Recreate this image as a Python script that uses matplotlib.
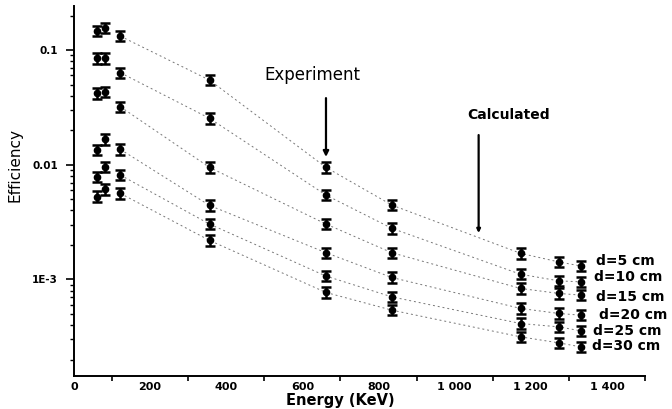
import numpy as np
import matplotlib
matplotlib.use("Agg")
import matplotlib.pyplot as plt
from matplotlib.ticker import FixedLocator, FixedFormatter, LogLocator, NullFormatter

plt.rcParams["font.family"] = ["DejaVu Sans"]

# gamma energies (keV)
energy = [59.5, 81, 122, 356, 662, 835, 1173, 1274, 1332]

# efficiencies, one list per source distance
eff_d5 = [0.147, 0.155, 0.132, 0.0547, 0.00948, 0.00445, 0.00169, 0.00142, 0.00131]
eff_d10 = [0.0846, 0.0846, 0.0634, 0.0254, 0.00544, 0.00279, 0.00111, 0.000972, 0.000953]
eff_d15 = [0.0419, 0.0433, 0.0320, 0.00948, 0.00304, 0.00171, 0.000835, 0.000755, 0.00073]
eff_d20 = [0.0134, 0.0166, 0.0136, 0.00442, 0.00171, 0.00104, 0.000559, 0.000505, 0.000488]
eff_d25 = [0.00785, 0.0096, 0.00812, 0.00304, 0.00107, 0.000705, 0.000413, 0.000386, 0.000356]
eff_d30 = [0.00527, 0.0061, 0.00562, 0.00219, 0.00077, 0.00054, 0.000316, 0.00028, 0.000258]

series = [eff_d5, eff_d10, eff_d15, eff_d20, eff_d25, eff_d30]
labels = ["d=5 cm", "d=10 cm", "d=15 cm", "d=20 cm", "d=25 cm", "d=30 cm"]
label_x = [1371, 1366, 1371, 1379, 1363, 1361]
label_y = [1.45e-3, 1.05e-3, 7.05e-4, 4.88e-4, 3.56e-4, 2.62e-4]

err_factor = 1.11

xtick_pos = [0, 200, 400, 600, 800, 1000, 1200, 1400]
xtick_lab = ["0", "200", "400", "600", "800", "1 000", "1 200", "1 400"]
ytick_pos = [0.1, 0.01, 1e-3]
ytick_lab = ["0.1", "0.01", "1E-3"]

fig = plt.figure(figsize=(6.72, 4.09), dpi=100)
ax = fig.add_axes([0.1101, 0.0807, 0.8497, 0.9046])

x = np.array(energy)
for eff in series:
    y = np.array(eff)
    # dotted curve from 122 keV onward
    ax.plot(x[2:], y[2:], color="#777777", lw=0.7, ls=(0, (2, 3)), zorder=1)
    yerr = [y - y / err_factor, y * err_factor - y]
    ax.errorbar(x, y, yerr=yerr, fmt="o", color="black", ms=4.5,
                elinewidth=1.8, capsize=3.7, capthick=1.8, zorder=3)

for lab, lx, ly in zip(labels, label_x, label_y):
    ax.text(lx, ly, lab, ha="left", va="center", fontsize=10,
            fontweight="bold")

ax.annotate("", xy=(662, 0.0117), xytext=(662, 0.0381),
            arrowprops=dict(arrowstyle="-|>", lw=1.6, color="black",
                            mutation_scale=8, shrinkA=0, shrinkB=0))
ax.text(626, 0.0605, "Experiment", ha="center", va="center", fontsize=12)

ax.annotate("", xy=(1063, 0.00254), xytext=(1063, 0.01815),
            arrowprops=dict(arrowstyle="-|>", lw=1.6, color="black",
                            mutation_scale=5, shrinkA=0, shrinkB=0))
ax.text(1141, 0.0271, "Calculated", ha="center", va="center", fontsize=10,
        fontweight="bold")

ax.set_yscale("log")
ax.set_xlim(0, 1500)
ax.set_ylim(1.44e-4, 0.242)

ax.xaxis.set_major_locator(FixedLocator(xtick_pos))
ax.xaxis.set_major_formatter(FixedFormatter(xtick_lab))
ax.xaxis.set_minor_locator(FixedLocator([100, 300, 500, 700, 900, 1100, 1300, 1500]))
ax.tick_params(axis="x", which="major", length=0, pad=4, labelsize=8)
ax.tick_params(axis="x", which="minor", length=3.5, width=1.2)

ax.yaxis.set_major_locator(FixedLocator(ytick_pos))
ax.yaxis.set_major_formatter(FixedFormatter(ytick_lab))
ax.yaxis.set_minor_locator(LogLocator(base=10, subs=np.arange(2, 10)))
ax.yaxis.set_minor_formatter(NullFormatter())
ax.tick_params(axis="y", which="major", length=5.5, width=1.2, pad=6, labelsize=7.5)
ax.tick_params(axis="y", which="minor", length=3, width=1.0)

for lab in ax.get_xticklabels() + ax.get_yticklabels():
    lab.set_fontweight("bold")

ax.spines["top"].set_visible(False)
ax.spines["right"].set_visible(False)
ax.spines["left"].set_linewidth(1.4)
ax.spines["bottom"].set_linewidth(1.4)

ax.set_xlabel("Energy (KeV)", fontsize=10.5, fontweight="bold")
ax.xaxis.set_label_coords(0.466, -0.047)
ax.set_ylabel("Efficiency", fontsize=11)
ax.yaxis.set_label_coords(-0.1035, 0.57)
ax.yaxis.label.set_verticalalignment("center")

fig.savefig("out.png", dpi=100)
plt.close(fig)
